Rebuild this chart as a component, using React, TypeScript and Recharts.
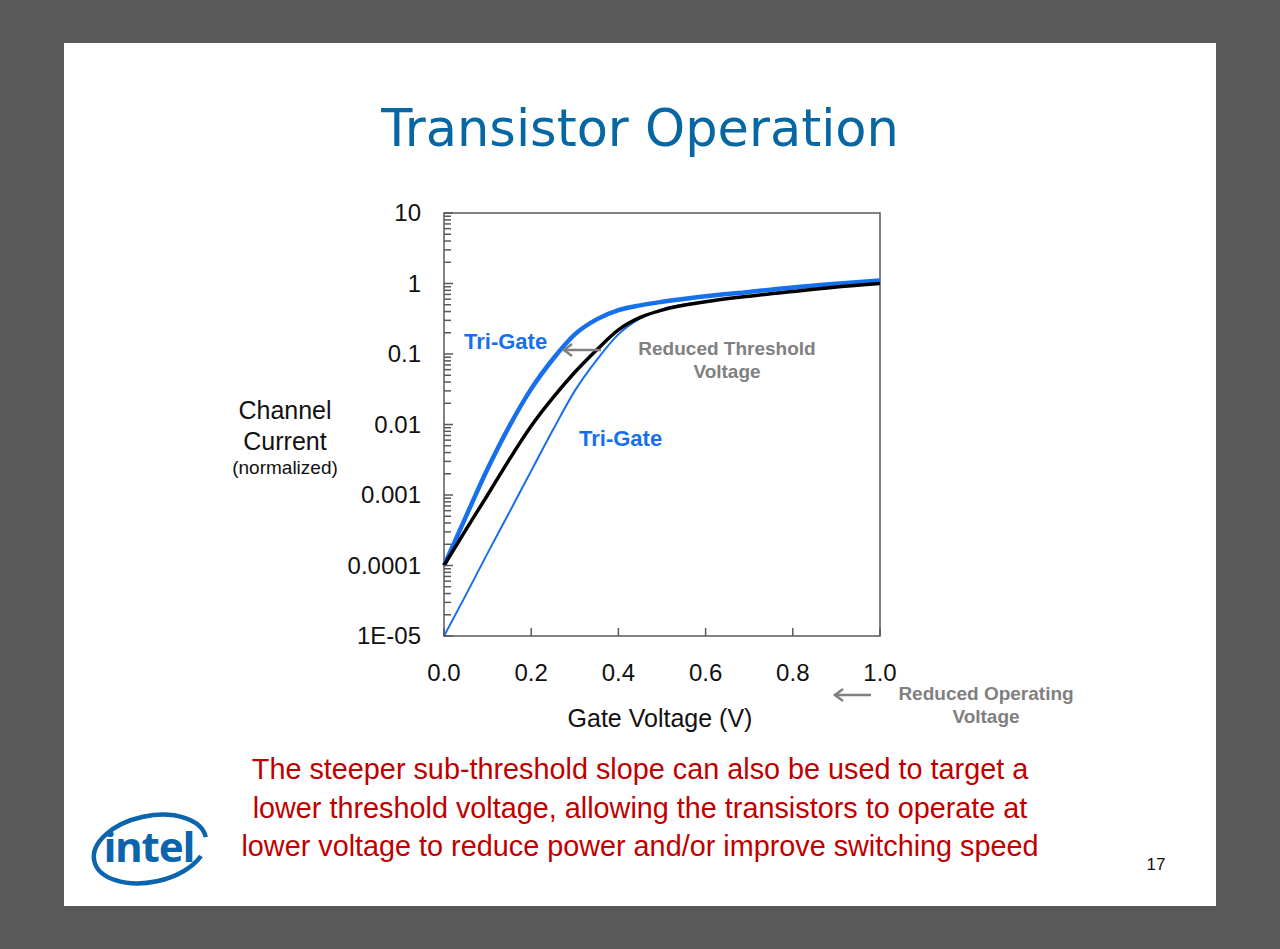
import React from "react";
import { LineChart, Line, XAxis, YAxis, ReferenceArea } from "recharts";

// Gate voltage (V) sample points and normalized channel current per device
const voltage = [0, 0.05, 0.1, 0.15, 0.2, 0.25, 0.3, 0.35, 0.4, 0.45, 0.5, 0.6, 0.7, 0.8, 0.9, 1.0];
const triGateStdVt = [1e-5, 3.8e-5, 1.5e-4, 5.7e-4, 2.2e-3, 8.4e-3, 0.03, 0.082, 0.19, 0.32, 0.43, 0.555, 0.665, 0.775, 0.895, 1.01];
const planar = [1e-4, 3.2e-4, 1.0e-3, 3.2e-3, 9.5e-3, 0.024, 0.055, 0.114, 0.22, 0.33, 0.42, 0.55, 0.66, 0.77, 0.89, 1.0];
const triGateLowVt = [1e-4, 4.9e-4, 2.35e-3, 9.5e-3, 0.032, 0.085, 0.19, 0.31, 0.42, 0.49, 0.55, 0.66, 0.76, 0.88, 0.99, 1.1];

const xTicks = [0, 0.2, 0.4, 0.6, 0.8, 1.0];
const xTickLabels = ["0.0", "0.2", "0.4", "0.6", "0.8", "1.0"];
const yDecades = [1e-5, 1e-4, 1e-3, 1e-2, 1e-1, 1, 10];
const yTickLabels = ["1E-05", "0.0001", "0.001", "0.01", "0.1", "1", "10"];

const bodyLines = [
  "The steeper sub-threshold slope can also be used to target a",
  "lower threshold voltage, allowing the transistors to operate at",
  "lower voltage to reduce power and/or improve switching speed",
];

const data = voltage.map((v, i) => ({
  v,
  std: triGateStdVt[i],
  planar: planar[i],
  low: triGateLowVt[i],
}));

const yTicks = yDecades.flatMap((d, i) =>
  i === yDecades.length - 1 ? [d] : [1, 2, 3, 4, 5, 6, 7, 8, 9].map((m) => d * m)
);

const BLUE = "#1670ee";
const AXIS = "#595959";
const GRAY = "#808080";
const FONT = "'Liberation Sans', Arial, sans-serif";

function XTick(props: any) {
  const { x, y, payload } = props;
  const i = xTicks.findIndex((t) => Math.abs(t - payload.value) < 1e-9);
  return (
    <g>
      <line x1={x} x2={x} y1={y} y2={y - 8} stroke={AXIS} strokeWidth={1.5} />
      <text x={x} y={y + 45} textAnchor="middle" fontSize={24} fill="#111" fontFamily={FONT}>
        {xTickLabels[i]}
      </text>
    </g>
  );
}

function YTick(props: any) {
  const { x, y, payload } = props;
  const i = yDecades.findIndex((d) => Math.abs(d - payload.value) / d < 1e-6);
  const major = i >= 0;
  return (
    <g>
      <line x1={x} x2={x + (major ? 9 : 7)} y1={y} y2={y} stroke={AXIS} strokeWidth={1.5} />
      {major && (
        <text x={x - 23} y={y + 8} textAnchor="end" fontSize={24} fill="#111" fontFamily={FONT}>
          {yTickLabels[i]}
        </text>
      )}
    </g>
  );
}

function Arrow({ x1, x2, y }: { x1: number; x2: number; y: number }) {
  return (
    <g stroke={GRAY} strokeWidth={2.5} fill="none">
      <line x1={x1} x2={x2} y1={y} y2={y} />
      <polyline points={`${x2 + 9},${y - 6} ${x2 + 1},${y} ${x2 + 9},${y + 6}`} />
    </g>
  );
}

function IntelLogo() {
  return (
    <svg width={150} height={110} style={{ position: "absolute", left: 78, top: 795 }}>
      <ellipse cx={72} cy={54} rx={57} ry={33} transform="rotate(-12 72 54)" fill="none" stroke="#0a64ae" strokeWidth={4.5} strokeDasharray="300 40" strokeDashoffset={-20} />
      <text x={71} y={67} textAnchor="middle" fontSize={42} fontWeight="bold" fill="#0a64ae" fontFamily="'Noto Sans', sans-serif" letterSpacing={-1}>
        intel
      </text>
    </svg>
  );
}

export default function App() {
  return (
    <div style={{ position: "absolute", left: 0, top: 0, width: 1280, height: 949, background: "#595959", overflow: "hidden" }}>
      <div style={{ position: "absolute", left: 64, top: 43, width: 1152, height: 863, background: "#fff" }} />
      <div style={{ position: "absolute", left: 0, top: 99, width: 1280, textAlign: "center", fontFamily: "'DejaVu Sans', Verdana, sans-serif", fontSize: 51, color: "#0767a3", lineHeight: "60px" }}>
        Transistor Operation
      </div>

      <div style={{ position: "absolute", left: 0, top: 0 }}>
        <LineChart width={1280} height={949} data={data} margin={{ top: 213, right: 400, bottom: 253, left: 364 }}>
          <XAxis
            dataKey="v"
            type="number"
            domain={[0, 1]}
            ticks={xTicks}
            interval={0}
            axisLine={false}
            tickLine={false}
            tickSize={0}
            tickMargin={0}
            height={60}
            tick={<XTick />}
          />
          <YAxis
            type="number"
            scale="log"
            domain={[1e-5, 10]}
            ticks={yTicks}
            interval={0}
            allowDataOverflow
            axisLine={false}
            tickLine={false}
            tickSize={0}
            tickMargin={0}
            width={80}
            tick={<YTick />}
          />
          <ReferenceArea x1={0} x2={1} y1={1e-5} y2={10} fill="none" fillOpacity={0} stroke={AXIS} strokeWidth={1.5} />
          <Line dataKey="std" type="monotone" stroke={BLUE} strokeWidth={2} dot={false} isAnimationActive={false} />
          <Line dataKey="low" type="monotone" stroke={BLUE} strokeWidth={4.5} dot={false} isAnimationActive={false} />
          <Line dataKey="planar" type="monotone" stroke="#000" strokeWidth={3.5} dot={false} isAnimationActive={false} />
        </LineChart>
      </div>

      <svg width={1280} height={949} style={{ position: "absolute", left: 0, top: 0, pointerEvents: "none" }} fontFamily={FONT}>
        <Arrow x1={601} x2={563} y={350} />
        <Arrow x1={871} x2={834} y={695} />
        <text x={464} y={349} fontSize={22} fontWeight="bold" fill={BLUE}>Tri-Gate</text>
        <text x={579} y={446} fontSize={22} fontWeight="bold" fill={BLUE}>Tri-Gate</text>
        <text x={727} y={355} textAnchor="middle" fontSize={19} fontWeight="bold" fill={GRAY}>Reduced Threshold</text>
        <text x={727} y={378} textAnchor="middle" fontSize={19} fontWeight="bold" fill={GRAY}>Voltage</text>
        <text x={986} y={700} textAnchor="middle" fontSize={19} fontWeight="bold" fill={GRAY}>Reduced Operating</text>
        <text x={986} y={723} textAnchor="middle" fontSize={19} fontWeight="bold" fill={GRAY}>Voltage</text>
        <text x={285} y={419} textAnchor="middle" fontSize={25} fill="#111">Channel</text>
        <text x={285} y={450} textAnchor="middle" fontSize={25} fill="#111">Current</text>
        <text x={285} y={474} textAnchor="middle" fontSize={19} fill="#111">(normalized)</text>
        <text x={660} y={727} textAnchor="middle" fontSize={25} fill="#111">Gate Voltage (V)</text>
        {bodyLines.map((t, i) => (
          <text key={i} x={640} y={779 + i * 38.5} textAnchor="middle" fontSize={28.8} fill="#c00000">{t}</text>
        ))}
        <text x={1156} y={870} textAnchor="middle" fontSize={17} fill="#111">17</text>
      </svg>

      <IntelLogo />
    </div>
  );
}
